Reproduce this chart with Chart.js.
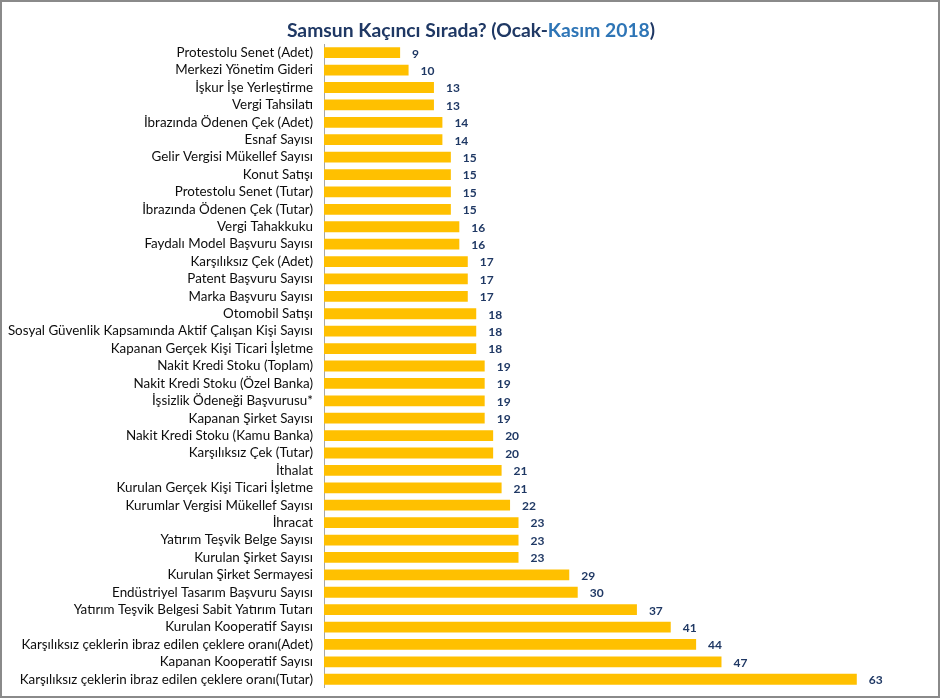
<!DOCTYPE html>
<html lang="tr">
<head>
<meta charset="UTF-8">
<title>Samsun Kaçıncı Sırada?</title>
<script src="https://cdn.jsdelivr.net/npm/chart.js"></script>
<style>
    body { margin: 0; background: #fff; }
    .frame {
        width: 940px; height: 698px;
        box-sizing: border-box;
        border: 2px solid #8a8a8a;
        position: relative;
        overflow: hidden;
    }
    canvas { display: block; }
</style>
</head>
<body>
<div class="frame">
    <canvas id="rankChart" width="936" height="705"></canvas>
</div>
<script>
    // kategoriler ve sıralar
    const categories = [
        "Protestolu Senet (Adet)",
        "Merkezi Yönetim Gideri",
        "İşkur İşe Yerleştirme",
        "Vergi Tahsilatı",
        "İbrazında Ödenen Çek (Adet)",
        "Esnaf Sayısı",
        "Gelir Vergisi Mükellef Sayısı",
        "Konut Satışı",
        "Protestolu Senet (Tutar)",
        "İbrazında Ödenen Çek (Tutar)",
        "Vergi Tahakkuku",
        "Faydalı Model Başvuru Sayısı",
        "Karşılıksız Çek (Adet)",
        "Patent Başvuru Sayısı",
        "Marka Başvuru Sayısı",
        "Otomobil Satışı",
        "Sosyal Güvenlik Kapsamında Aktif Çalışan Kişi Sayısı",
        "Kapanan Gerçek Kişi Ticari İşletme",
        "Nakit Kredi Stoku (Toplam)",
        "Nakit Kredi Stoku (Özel Banka)",
        "İşsizlik Ödeneği Başvurusu*",
        "Kapanan Şirket Sayısı",
        "Nakit Kredi Stoku (Kamu Banka)",
        "Karşılıksız Çek (Tutar)",
        "İthalat",
        "Kurulan Gerçek Kişi Ticari İşletme",
        "Kurumlar Vergisi Mükellef Sayısı",
        "İhracat",
        "Yatırım Teşvik Belge Sayısı",
        "Kurulan Şirket Sayısı",
        "Kurulan Şirket Sermayesi",
        "Endüstriyel Tasarım Başvuru Sayısı",
        "Yatırım Teşvik Belgesi Sabit Yatırım Tutarı",
        "Kurulan Kooperatif Sayısı",
        "Karşılıksız çeklerin ibraz edilen çeklere oranı(Adet)",
        "Kapanan Kooperatif Sayısı",
        "Karşılıksız çeklerin ibraz edilen çeklere oranı(Tutar)"
    ];
    const ranks = [9, 10, 13, 13, 14, 14, 15, 15, 15, 15, 16, 16, 17, 17, 17, 18, 18, 18,
                   19, 19, 19, 19, 20, 20, 21, 21, 22, 23, 23, 23, 29, 30, 37, 41, 44, 47, 63];
    const xMin = 0;
    const xMax = 70;

    const titleParts = [
        { text: "Samsun Kaçıncı Sırada? (Ocak-", color: "#1f3864" },
        { text: "Kasım 2018", color: "#2e75b6" },
        { text: ")", color: "#1f3864" }
    ];

    // başlık iki renkli olduğu için elle çiziliyor
    const titlePlugin = {
        id: 'twoColorTitle',
        afterDraw(chart) {
            const ctx = chart.ctx;
            ctx.save();
            ctx.font = "bold 19.3px Lato, 'Open Sans', sans-serif";
            ctx.textBaseline = 'middle';
            ctx.textAlign = 'left';
            const total = titleParts.reduce((s, p) => s + ctx.measureText(p.text).width, 0);
            let x = (chart.width - total) / 2 + 1;
            titleParts.forEach(p => {
                ctx.fillStyle = p.color;
                ctx.fillText(p.text, x, 28.5);
                x += ctx.measureText(p.text).width;
            });
            ctx.restore();
        }
    };

    // bar sonundaki değer etiketleri
    const valueLabels = {
        id: 'valueLabels',
        afterDatasetsDraw(chart) {
            const ctx = chart.ctx;
            const meta = chart.getDatasetMeta(0);
            ctx.save();
            ctx.font = "bold 12px Lato, 'Open Sans', sans-serif";
            ctx.fillStyle = '#1f3864';
            ctx.textAlign = 'left';
            ctx.textBaseline = 'middle';
            meta.data.forEach((bar, i) => {
                ctx.fillText(String(ranks[i]), bar.x + 12, bar.y + 1);
            });
            ctx.restore();
        }
    };

    new Chart(document.getElementById('rankChart').getContext('2d'), {
        type: 'bar',
        data: {
            labels: categories,
            datasets: [{
                data: ranks,
                backgroundColor: '#ffc000',
                borderWidth: 0,
                categoryPercentage: 1.0,
                barPercentage: 0.62
            }]
        },
        options: {
            indexAxis: 'y',
            responsive: false,
            animation: false,
            layout: {
                padding: { top: 42, bottom: 0, left: 0, right: 22 }
            },
            plugins: {
                legend: { display: false },
                title: { display: false },
                tooltip: { enabled: false }
            },
            scales: {
                x: {
                    min: xMin,
                    max: xMax,
                    display: false
                },
                y: {
                    grid: { display: false, drawTicks: false },
                    border: { display: true, color: '#a6a6a6', width: 1 },
                    ticks: {
                        autoSkip: false,
                        padding: 11,
                        color: '#0d0d0d',
                        font: { family: "Lato, 'Open Sans', sans-serif", size: 13.4 }
                    },
                    afterFit(scale) { scale.width = 322; }
                }
            }
        },
        plugins: [titlePlugin, valueLabels]
    });
</script>
</body>
</html>
